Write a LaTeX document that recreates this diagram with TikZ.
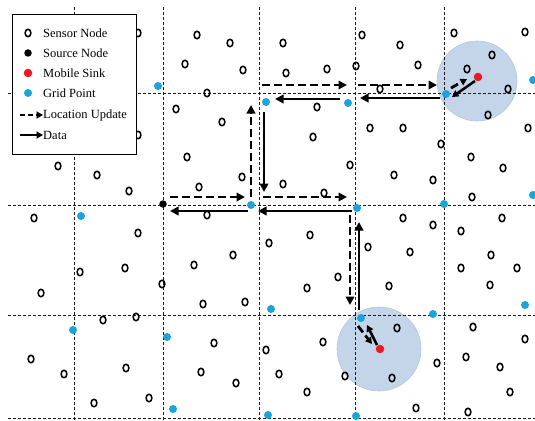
\documentclass[tikz,border=0pt]{standalone}
\usepackage{fontspec}
\setmainfont{Liberation Serif}
\usetikzlibrary{arrows.meta,shapes.geometric}
\definecolor{gridpt}{RGB}{27,164,220}
\definecolor{sinkred}{RGB}{235,25,35}
\definecolor{rangefill}{RGB}{196,213,234}
\definecolor{rangeedge}{RGB}{178,198,224}
\begin{document}
\begin{tikzpicture}[x=1pt,y=-1pt,
  sensor/.style={ellipse, draw=black, line width=1.5pt, minimum width=5.8pt, minimum height=7.5pt, inner sep=0pt},
  gpt/.style={circle, fill=gridpt, minimum size=8pt, inner sep=0pt},
  srcnode/.style={circle, fill=black, minimum size=7.5pt, inner sep=0pt},
  sinknode/.style={circle, fill=sinkred, minimum size=8.5pt, inner sep=0pt},
  rangec/.style={circle, fill=rangefill, draw=rangeedge, line width=0.6pt, inner sep=0pt},
  gridline/.style={draw=black!90, line width=0.9pt, dash pattern=on 3pt off 2pt},
  upd/.style={line width=2.8pt, dash pattern=on 8pt off 4pt, -{Triangle[length=8.5pt,width=8.5pt]}},
  dat/.style={line width=2.5pt, -{Triangle[length=8.5pt,width=8.5pt]}},
  smallhead/.style={-{Triangle[length=6.5pt,width=7pt]}},
  legbox/.style={draw=black, fill=white, line width=0.8pt, inner sep=0pt, anchor=north west, minimum width=124pt, minimum height=140pt},
  legtext/.style={anchor=west, inner sep=0pt, font=\fontsize{12.5}{14}\selectfont}
]
\useasboundingbox (0,0) rectangle (535,420);
\fill[white] (0,0) rectangle (535,420);

% sensing ranges of mobile sinks
\node[rangec, minimum size=80pt] (r1) at (477,81) {};
\node[rangec, minimum size=84pt] (r2) at (379,349) {};

% grid
\foreach \yy in {93,205,315,418} \draw[gridline] (8,\yy) -- (535,\yy);
\foreach \xx in {74,163,259,355,444} \draw[gridline] (\xx,7) -- (\xx,420);

% sensor nodes
\foreach \px/\py [count=\i] in {
138/33, 197/35, 230/43, 283/43, 185/64, 243/70, 286/73, 327/69, 356/66, 362/35, 400/45, 454/33, 525/32, 492/55, 467/69, 418/65, 508/89, 380/89, 207/93,
176/109, 138/135, 317/107, 222/122, 313/137, 488/115, 370/128, 403/128, 528/128, 187/157, 242/177, 199/187, 283/184, 324/193, 350/165, 441/144, 471/157, 503/168, 394/175, 433/180, 472/197, 58/166, 97/175, 129/191,
34/218, 138/233, 80/272, 125/268, 207/215, 269/243, 310/235, 233/255, 194/265, 338/277, 403/218, 433/225, 461/231, 502/218, 368/247, 410/252, 491/255, 461/268, 517/268, 41/293, 162/284, 203/304, 245/302, 307/288, 389/286, 490/285,
103/320, 136/317, 31/359, 64/374, 126/368, 94/403, 149/398, 214/343, 266/350, 323/342, 201/372, 236/383, 279/374, 307/392, 345/376, 397/328, 473/327, 525/339, 437/363, 466/357, 500/367, 392/378, 510/392, 416/408, 468/412}
  \node[sensor] (s\i) at (\px,\py) {};

% grid points
\node[gpt] (gA) at (251,205) {};
\node[gpt] (gB) at (357,208) {};
\node[gpt] (gC) at (266,102) {};
\node[gpt] (gD) at (348,103) {};
\node[gpt] (gE) at (446,94) {};
\node[gpt] (gF) at (361,318) {};
\foreach \px/\py [count=\i] in {158/86, 533/80, 81/216, 444/204, 533/195, 73/330, 167/337, 271/309, 433/314, 525/305, 173/409, 268/415, 356/416}
  \node[gpt] (gp\i) at (\px,\py) {};

% source and sinks
\node[srcnode] (src) at (163,204) {};
\node[sinknode] (sk1) at (478,77) {};
\node[sinknode] (sk2) at (380,349) {};

% location update (dashed)
\draw[upd] ([shift={(7,-7)}]src.center) -- ([shift={(-6,-8)}]gA.center);
\draw[upd] ([shift={(0,-8)}]gA.center) -- ([shift={(-15,3)}]gC.center);
\draw[upd] ([shift={(-4,-17)}]gC.center) -- ([shift={(-1,-18)}]gD.center);
\draw[upd] ([shift={(10,-18)}]gD.center) -- ([shift={(-9,-9)}]gE.center);
\draw[upd,smallhead] ([shift={(5,-6)}]gE.center) -- ([shift={(-11,2)}]sk1.center);
\draw[upd] ([shift={(12,-8)}]gA.center) -- ([shift={(-10,-11)}]gB.center);
\draw[upd] ([shift={(-7,7)}]gB.center) -- ([shift={(-11,-13)}]gF.center);
\draw[upd,smallhead] ([shift={(-3,8)}]gF.center) -- ([shift={(-8,-5)}]sk2.center);

% data (solid)
\draw[dat] ([shift={(-6,4)}]gE.center) -- ([shift={(12,-5)}]gD.center);
\draw[dat] ([shift={(-8,-4)}]gD.center) -- ([shift={(9,-3)}]gC.center);
\draw[dat] ([shift={(-2,10)}]gC.center) -- ([shift={(13,-13)}]gA.center);
\draw[dat] ([shift={(-3,6)}]gA.center) -- ([shift={(7,7)}]src.center);
\draw[dat] ([shift={(-5,3)}]gB.center) -- ([shift={(7,6)}]gA.center);
\draw[dat] ([shift={(-2,-8)}]gF.center) -- ([shift={(2,14)}]gB.center);
\draw[dat,smallhead] ([shift={(-3,4)}]sk1.center) -- ([shift={(6,3)}]gE.center);
\draw[dat,smallhead] ([shift={(-3,-4)}]sk2.center) -- ([shift={(6,7)}]gF.center);

% legend
\node[legbox] (legend) at (12,14) {};
\node[sensor] (l1) at (28,33) {};
\node[srcnode] (l2) at (28,53) {};
\node[sinknode] (l3) at (28,73) {};
\node[gpt] (l4) at (28,93) {};
\coordinate (la1) at (20,115);
\coordinate (la2) at (43,115);
\coordinate (lb1) at (20,135);
\coordinate (lb2) at (43,135);
\draw[upd, dash pattern=on 5pt off 3pt, smallhead] (la1) -- (la2);
\draw[dat, smallhead] (lb1) -- (lb2);
\node[legtext] (t1) at (43,33) {Sensor Node};
\node[legtext] (t2) at (43,53) {Source Node};
\node[legtext] (t3) at (43,73) {Mobile Sink};
\node[legtext] (t4) at (43,93) {Grid Point};
\node[legtext] (t5) at (43,115) {Location Update};
\node[legtext] (t6) at (43,135) {Data};
\end{tikzpicture}
\end{document}
